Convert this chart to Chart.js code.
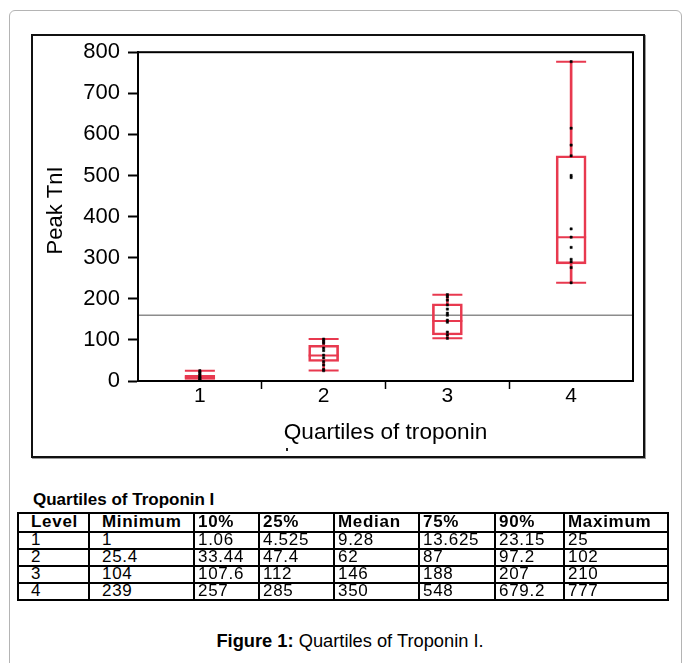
<!DOCTYPE html>
<html>
<head>
<meta charset="utf-8">
<script src="https://cdn.jsdelivr.net/npm/chart.js@4.4.1/dist/chart.umd.min.js"></script>
<style>
  body { margin: 0; background: #fff; width: 683px; height: 663px; overflow: hidden; position: relative;
         font-family: 'Liberation Sans', Arial, sans-serif; }
  #outer { position: absolute; left: 9px; top: 10px; width: 673px; height: 700px;
           border: 1px solid #b4b4b4; border-radius: 6px; box-sizing: border-box; }
  #frame { position: absolute; left: 31px; top: 34px; width: 614px; height: 424px;
           border: 2px solid #111; box-sizing: border-box; box-shadow: 1px 1px 0 #9a9a9a; }
  #cv { position: absolute; left: 34px; top: 31px; }
  #stray { position: absolute; left: 286px; top: 448px; width: 2px; height: 3px; background: #222; }
  #tblTitle { position: absolute; left: 33px; top: 491px; font-weight: bold; font-size: 17px; line-height: 18px; }
  #tbl { position: absolute; left: 17px; top: 512px; width: 650px; border-collapse: collapse; table-layout: fixed;
         font-size: 17px; letter-spacing: 0.7px; }
  #tbl td, #tbl th { border: 2px solid #000; padding: 0 0 1px 3px; text-align: left; line-height: 14px;
                     height: 14px; white-space: nowrap; overflow: hidden; vertical-align: middle; }
  #tbl td:nth-child(1), #tbl th:nth-child(1), #tbl td:nth-child(2), #tbl th:nth-child(2) { padding-left: 12px; }
  #tbl th { font-weight: bold; height: 16px; line-height: 16px; }
  #caption { position: absolute; left: 0; width: 700px; top: 631px; text-align: center; font-size: 18.3px; line-height: 20px; }
</style>
</head>
<body>
<div id="outer"></div>
<div id="frame"></div>
<canvas id="cv" width="616" height="424"></canvas>
<div id="stray"></div>
<div id="tblTitle">Quartiles of Troponin I</div>
<table id="tbl">
  <colgroup>
    <col style="width:71px"><col style="width:105px"><col style="width:65px"><col style="width:75px">
    <col style="width:85px"><col style="width:76px"><col style="width:69px"><col style="width:104px">
  </colgroup>
  <thead><tr id="hdr"></tr></thead>
  <tbody id="rows"></tbody>
</table>
<div id="caption"><b>Figure 1:</b> Quartiles of Troponin I.</div>

<script>
// quartile summary (from the table)
const levels  = ['1', '2', '3', '4']
const minimum = [1, 25.4, 104, 239]
const p10     = [1.06, 33.44, 107.6, 257]
const p25     = [4.525, 47.4, 112, 285]
const median  = [9.28, 62, 146, 350]
const p75     = [13.625, 87, 188, 548]
const p90     = [23.15, 97.2, 207, 679.2]
const maximum = [25, 102, 210, 777]

const tableHeaders = ['Level', 'Minimum', '10%', '25%', 'Median', '75%', '90%', 'Maximum']
const tableLabels  = ['1', '2', '3', '4']
const tableMin = ['1', '25.4', '104', '239']
const tableP10 = ['1.06', '33.44', '107.6', '257']
const tableP25 = ['4.525', '47.4', '112', '285']
const tableMed = ['9.28', '62', '146', '350']
const tableP75 = ['13.625', '87', '188', '548']
const tableP90 = ['23.15', '97.2', '207', '679.2']
const tableMax = ['25', '102', '210', '777']

// individual values plotted as dots
const pointsL1 = [25, 22, 18, 14, 10, 8, 5, 2, 1]
const pointsL2 = [102, 97, 92, 80, 74, 63, 56, 47, 39, 28, 25]
const pointsL3 = [210, 205, 197, 185, 175, 165, 160, 148, 143, 119, 112, 104]
const pointsL4 = [777, 615, 574, 548, 500, 495, 370, 350, 325, 296, 290, 276, 239]

const refLine = 160
const yTicks = [0, 100, 200, 300, 400, 500, 600, 700, 800]

const RED = '#e8394f'
const FONT = "'Liberation Sans', Arial, sans-serif"

// table
document.getElementById('hdr').innerHTML = tableHeaders.map(h => '<th>' + h + '</th>').join('')
var cols = [tableLabels, tableMin, tableP10, tableP25, tableMed, tableP75, tableP90, tableMax]
var html = ''
for (var r = 0; r < tableLabels.length; r++) {
  html += '<tr>' + cols.map(c => '<td>' + c[r] + '</td>').join('') + '</tr>'
}
document.getElementById('rows').innerHTML = html

var dots = []
;[pointsL1, pointsL2, pointsL3, pointsL4].forEach((arr, i) => {
  arr.forEach(v => dots.push({x: levels[i], y: v}))
})

const plotDecor = {
  id: 'plotDecor',
  beforeDatasetsDraw(chart) {
    const {ctx, chartArea, scales} = chart
    const y = scales.y.getPixelForValue(refLine)
    ctx.save()
    ctx.strokeStyle = '#8c8c8c'
    ctx.lineWidth = 1.5
    ctx.beginPath()
    ctx.moveTo(chartArea.left, y)
    ctx.lineTo(chartArea.right, y)
    ctx.stroke()
    ctx.restore()
  },
  afterDatasetsDraw(chart) {
    const {ctx, chartArea} = chart
    ctx.save()
    ctx.strokeStyle = '#000'
    ctx.lineWidth = 2
    ctx.strokeRect(chartArea.left, chartArea.top, chartArea.right - chartArea.left, chartArea.bottom - chartArea.top)
    ctx.restore()
  }
}

const capStyle = {
  type: 'line', showLine: false, pointStyle: 'line', pointRadius: 15,
  pointBorderColor: RED, pointBorderWidth: 2, pointBackgroundColor: RED
}

new Chart(document.getElementById('cv'), {
  type: 'bar',
  data: {
    labels: levels,
    datasets: [
      { type: 'line', label: 'values', data: dots, showLine: false, pointStyle: 'rect', pointRadius: 1.6,
        pointBackgroundColor: '#000', pointBorderColor: '#000', pointBorderWidth: 0.5 },
      Object.assign({ label: 'median', data: median }, capStyle),
      Object.assign({ label: 'max', data: maximum }, capStyle),
      Object.assign({ label: 'min', data: minimum }, capStyle),
      { label: 'box', data: p25.map((v, i) => [v, p75[i]]), backgroundColor: 'rgba(0,0,0,0)',
        borderColor: RED, borderWidth: 2, borderSkipped: false, barThickness: 30, grouped: false },
      { label: 'lower', data: minimum.map((v, i) => [v, p25[i]]), backgroundColor: RED,
        borderWidth: 0, barThickness: 2, grouped: false },
      { label: 'upper', data: p75.map((v, i) => [v, maximum[i]]), backgroundColor: RED,
        borderWidth: 0, barThickness: 2, grouped: false }
    ]
  },
  options: {
    responsive: false,
    animation: false,
    devicePixelRatio: 1,
    events: [],
    layout: { padding: { top: 9, right: 1, left: 0, bottom: 0 } },
    plugins: { legend: { display: false }, tooltip: { enabled: false } },
    scales: {
      x: {
        offset: true,
        afterFit: s => { s.height = 74 },
        grid: {
          offset: true, drawOnChartArea: false, tickLength: 8, tickWidth: 1.5,
          tickColor: ctx => (ctx.index > 0 ? '#000' : 'rgba(0,0,0,0)')
        },
        border: { color: '#000', width: 2 },
        ticks: { color: '#000', padding: -3, font: { family: FONT, size: 21, lineHeight: 1 } },
        title: { display: true, text: 'Quartiles of troponin', color: '#000',
                 font: { family: FONT, size: 22.6 }, padding: { top: 0, bottom: 9 } }
      },
      y: {
        min: 0, max: 800,
        afterFit: s => { s.width = 104 },
        afterBuildTicks: s => { s.ticks = yTicks.map(v => ({ value: v })) },
        grid: { drawOnChartArea: false, tickLength: 10, tickWidth: 2, tickColor: '#000' },
        border: { color: '#000', width: 2 },
        ticks: { color: '#000', padding: 8, font: { family: FONT, size: 22 } },
        title: { display: true, text: '  Peak TnI', color: '#000',
                 font: { family: FONT, size: 22 }, padding: { top: 9, bottom: 0 } }
      }
    }
  },
  plugins: [plotDecor]
})
</script>
</body>
</html>
